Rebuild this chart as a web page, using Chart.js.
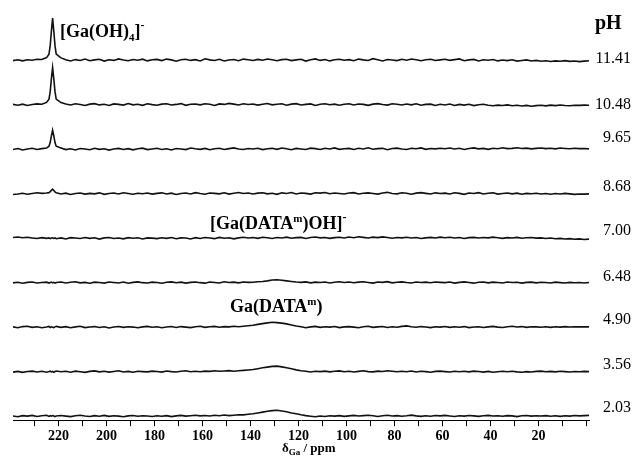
<!DOCTYPE html>
<html>
<head>
<meta charset="utf-8">
<script src="https://cdn.jsdelivr.net/npm/chart.js@4.4.0/dist/chart.umd.min.js"></script>
<style>
  html, body { margin: 0; padding: 0; background: #fff; }
  canvas { display: block; }
</style>
</head>
<body>
<canvas id="nmr" width="636" height="460"></canvas>
<script>
// 71Ga NMR spectra vs pH, stacked

// chemical shift axis (ppm), fine sampling around the Ga(OH)4- line
const ppm = [
  239, 237, 235, 233, 231, 229, 227, 225, 224, 223.5, 223, 222.5, 222, 221.5, 221,
  219, 217, 215, 213, 211, 209, 207, 205, 203, 201, 199, 197, 195, 193, 191, 189, 187, 185, 183, 181,
  179, 177, 175, 173, 171, 169, 167, 165, 163, 161, 159, 157, 155, 153, 151, 149, 147, 145, 143, 141,
  139, 137, 135, 133, 131, 129, 127, 125, 123, 121, 119, 117, 115, 113, 111, 109, 107, 105, 103, 101,
  99, 97, 95, 93, 91, 89, 87, 85, 83, 81, 79, 77, 75, 73, 71, 69, 67, 65, 63, 61,
  59, 57, 55, 53, 51, 49, 47, 45, 43, 41, 39, 37, 35, 33, 31, 29, 27, 25, 23, 21,
  19, 17, 15, 13, 11, 9, 7, 5, 3, 1, -1
];

const xTicks = [0, 10, 20, 30, 40, 50, 60, 70, 80, 90, 100, 110, 120, 130, 140, 150, 160, 170, 180, 190, 200, 210, 220, 230];

const phLabels = ['11.41', '10.48', '9.65', '8.68', '7.00', '6.48', '4.90', '3.56', '2.03'];

// intensities (arbitrary units), one array per pH, same order as ppm
const spec1141 = [
  -0.5, 0.4, -0.8, 0.3, -0.2, 0.9, 0.6, 2.5, 6, 14.5, 29, 42, 29, 14.5, 6,
  2.2, 0.3, -0.9, 0.5, -0.4, 1.1, -0.6, 0.2, 0.8, -1.0, 0.4, -0.3, 1.2, 0.1, -0.7, 0.6, -0.2, 0.9, -0.8, 0.3,
  0.7, -0.5, 1.0, 0.2, -1.1, 0.4, 0.9, -0.3, 0.5, -0.8, 1.3, 0.2, -0.4, 0.8, -0.9, 0.1, 0.6, -0.6, 1.0, 0.3,
  -0.4, 0.7, -0.2, 1.1, 0.3, -0.7, 0.5, 0.9, -0.5, 0.2, 0.8, -1.0, 0.4, 1.2, -0.3, 0.6, -0.8, 0.3, 0.9, -0.2,
  0.5, -0.6, 1.0, 0.2, -0.4, 1.4, 0.3, -0.9, 0.6, 0.1, -0.5, 0.8, -0.2, 1.1, 0.4, -0.7, 0.3, 0.9, -0.4, 0.2,
  0.8, -0.3, 0.5, 1.2, -0.6, 0.2, 0.7, -0.9, 0.4, -0.2, 0.6, -0.8, 0.1, -0.5, 0.3, -1.0, -0.4, 0.2, -0.9, -0.3,
  -1.1, -0.6, -1.4, -0.8, -1.2, -0.5, -1.3, -0.9, -1.5, -1.0, -0.7
];
const spec1048 = [
  0.3, -0.6, 0.5, -0.9, 0.2, 0.7, 0.4, 2.2, 5.5, 13, 26, 37, 26, 13, 5.5,
  2.0, 0.6, -0.4, 0.9, 0.1, -0.8, 0.5, 1.0, -0.3, 0.4, -0.9, 0.7, 0.2, -0.5, 1.1, -0.2, 0.3, -0.7, 0.8, 0.0,
  -0.6, 0.5, 0.9, -0.4, 0.2, 1.0, -0.7, 0.3, 0.6, -0.2, 0.9, 0.4, -0.8, 0.7, 0.2, 1.2, 0.5, -0.3, 0.8, 0.1,
  0.6, -0.5, 0.3, 1.1, -0.2, 0.4, 0.8, -0.6, 0.5, 1.0, -0.4, 0.2, 0.7, -0.8, 0.3, 0.9, -0.1, 0.5, -0.6, 0.4,
  0.9, -0.3, 0.6, 0.2, -0.7, 0.5, 1.0, 0.1, -0.5, 0.8, 0.3, -0.4, 0.6, -0.2, 0.9, -0.6, 0.2, 0.5, -0.9, 0.3,
  -0.4, 0.6, -0.8, 0.2, -0.5, 0.4, -1.0, -0.2, 0.3, -0.7, -1.2, -0.5, -0.9, -0.3, -1.1, -0.6, -1.4, -0.8, -1.6, -1.0,
  -0.7, -1.3, -0.5, -1.0, -0.4, -0.9, -1.2, -0.6, -0.8, -0.5, -0.7
];
const spec965 = [
  -0.4, 0.6, -0.9, 0.2, 0.8, -0.3, 0.5, 1.1, 2.9, 6.6, 13.3, 19, 13.3, 6.6, 2.9,
  1.2, -0.5, 0.3, -0.8, 0.6, 0.1, -0.6, 0.9, -0.2, 0.4, -1.0, 0.2, 0.7, -0.4, 0.5, -0.7, 0.3, 1.0, -0.5, 0.2,
  0.8, -0.3, 0.4, -0.9, 0.6, 0.2, -0.5, 1.1, 0.3, -0.2, 0.7, -0.6, 0.4, 0.9, -0.3, 0.5, 1.2, 0.1, -0.4, 0.6,
  0.2, 0.9, -0.5, 0.4, 0.8, -0.2, 1.1, 0.3, -0.6, 0.7, 0.2, -0.4, 1.0, 0.5, -0.3, 0.8, 0.1, 1.2, -0.2, 0.4,
  0.7, -0.4, 0.9, 0.2, 1.3, -0.1, 0.5, 0.8, -0.6, 0.6, 1.0, 0.2, -0.3, 0.9, 0.4, 1.2, -0.2, 0.6, 0.3, 0.9,
  0.4, 1.1, 0.2, 0.8, -0.3, 0.6, 1.2, 0.3, 0.7, -0.2, 0.9, 0.4, 1.3, 0.5, 0.8, 1.4, 0.6, 1.0, 0.3, 0.8,
  1.2, 0.5, 0.9, 0.3, 1.1, 0.7, 0.4, 0.9, 0.5, 0.7, 0.3
];
const spec868 = [
  -0.8, -0.3, 0.4, -0.6, 0.2, 0.9, 0.3, 0.6, 1.0, 2.0, 3.3, 4.5, 3.2, 1.8, 0.8,
  -0.4, 0.5, -0.9, 0.2, 0.7, -0.5, 0.3, -0.2, 0.8, -0.7, 0.1, 0.6, -0.4, 0.9, 0.2, -0.6, 0.4, -0.1, 0.7, -0.5,
  0.3, 0.8, -0.3, 0.5, -0.8, 0.2, 0.6, -0.4, 1.0, 0.1, -0.6, 0.7, 0.3, -0.2, 0.9, -0.5, 0.4, 1.1, 0.2, 0.6,
  -0.3, 0.5, 0.9, -0.2, 0.4, -0.7, 0.8, 0.2, 1.1, -0.4, 0.6, 0.3, -0.5, 0.9, 0.5, 1.2, -0.1, 0.7, 0.2, -0.4,
  0.6, 1.0, -0.3, 0.4, 0.8, 0.1, -0.5, 0.7, 1.3, 0.2, -0.2, 0.9, 0.4, -0.6, 0.5, 1.0, 0.3, -0.3, 0.8, 0.2,
  0.5, -0.4, 0.9, 0.3, -0.7, 0.6, 0.1, 1.0, -0.3, 0.4, 0.8, -0.5, 0.2, 0.7, -0.2, 0.5, -0.6, 0.3, -0.1, 0.4,
  -0.3, 0.2, -0.6, 0.1, -0.4, 0.3, -0.2, -0.7, -0.3, -0.5, -0.2
];
const spec700 = [
  0.6, 1.2, 0.4, 0.9, 0.2, -0.4, 0.5, -0.2, 0.3, -0.5, 0.1, 0.4, -0.3, 0.2, -0.6,
  0.3, -0.8, 0.5, 0.1, -0.4, 0.7, -0.2, 0.4, -0.9, 0.3, 0.6, -0.3, 0.2, -0.7, 0.5, -0.1, 0.4, -0.8, 0.3, 0.0,
  -0.5, 0.4, -0.2, 0.7, -0.6, 0.3, 0.1, -0.8, 0.5, -0.3, 0.6, 0.2, -0.5, 0.8, -0.1, 0.4, -0.7, 0.3, 0.9, 0.2,
  0.6, -0.2, 0.9, 0.4, -0.4, 0.7, 0.2, 1.0, -0.1, 0.5, 0.8, -0.3, 0.6, 1.2, 0.3, 0.7, -0.2, 0.5, 0.9, 0.1,
  1.1, 0.4, 1.4, 0.8, 0.2, 1.0, 0.5, 1.3, 0.6, -0.1, 0.7, 0.3, 0.9, 0.2, 0.6, -0.4, 0.3, 0.8, 0.1, 1.0,
  0.4, 0.9, 0.2, 0.6, -0.3, 0.5, 0.8, 0.1, 0.7, 0.3, 1.0, 0.4, -0.2, 0.5, 0.2, 0.8, -0.1, 0.4, 0.6, 0.0,
  0.3, -0.4, 0.2, -0.6, -0.2, -0.8, -0.5, -1.1, -0.7, -1.3, -1.0
];
const spec648 = [
  -0.2, 0.4, -0.6, 0.3, 0.7, -0.3, 0.2, 0.5, -0.4, 0.1, 0.6, -0.2, 0.3, -0.5, 0.2,
  0.6, -0.3, 0.4, 0.9, -0.2, 0.3, -0.6, 0.5, 0.1, -0.4, 0.7, 0.2, -0.3, 0.6, -0.5, 0.3, 0.8, 0.0, -0.4, 0.5,
  0.2, -0.6, 0.4, 0.8, -0.1, 0.5, -0.4, 0.3, 0.7, 0.0, -0.5, 0.6, 0.2, -0.3, 0.9, 0.1, 0.5, -0.2, 0.7, 0.3,
  0.4, 0.9, 1.2, 1.8, 2.6, 2.9, 2.4, 1.8, 1.2, 0.6, 0.3, 0.8, -0.2, 0.5, 0.1, 0.7, -0.3, 0.4, 0.9, 0.2,
  0.6, -0.1, 0.5, 0.9, 0.2, -0.4, 0.6, 0.3, 1.0, -0.2, 0.4, 0.8, 0.1, -0.3, 0.7, 0.2, 0.5, -0.1, 0.6, 0.3,
  0.0, 0.6, -0.4, 0.3, 0.8, 0.1, -0.5, 0.4, 0.7, -0.2, 0.5, 0.2, -0.3, 0.6, 0.1, 0.4, -0.4, 0.3, 0.5, -0.2,
  0.4, 0.1, -0.3, 0.5, 0.0, -0.4, 0.3, -0.1, 0.2, -0.3, 0.1
];
const spec490 = [
  0.3, -0.5, 0.6, 1.0, -0.2, 0.4, -0.6, 0.2, 0.7, -0.3, 0.4, 0.0, -0.5, 0.3, 0.8,
  -0.2, 0.5, -0.6, 0.3, 0.9, -0.4, 0.2, 0.6, -0.3, 0.4, -0.8, 0.2, 0.7, -0.2, 0.5, 0.1, -0.6, 0.3, 0.8, -0.1,
  0.4, -0.5, 0.2, 0.7, -0.3, 0.6, 0.1, -0.4, 0.5, 0.9, -0.2, 0.4, 0.8, 0.0, 0.6, 0.3, 1.0, 0.5, 0.9, 1.4,
  2.0, 2.8, 3.6, 4.3, 5.0, 4.6, 4.1, 3.3, 2.2, 1.2, 0.4, -0.5, 0.3, 0.8, -0.2, 0.5, 0.1, 0.7, -0.4, 0.3,
  0.6, 0.1, -0.5, 0.4, 0.9, -0.2, 0.3, 0.7, -0.3, 0.5, 0.0, 0.8, 1.3, 0.4, -0.1, 0.6, 0.2, -0.4, 0.5, 0.1,
  0.7, -0.2, 0.4, 0.0, 0.6, -0.4, 0.2, 0.5, -0.3, 0.3, 0.8, 0.1, -0.3, 0.5, 1.0, 0.2, 0.6, -0.2, 0.4, 0.3,
  0.0, 0.5, -0.2, 0.4, 0.1, 0.6, 0.2, 0.4, 0.3, 0.5, 0.3
];
const spec356 = [
  -0.4, 0.3, -0.7, 0.2, 0.6, -0.3, 0.4, -0.5, 0.1, 0.5, -0.2, 0.3, -0.6, 0.2, 0.7,
  -0.1, 0.4, -0.5, 0.6, 0.0, -0.7, 0.3, 0.8, -0.2, 0.4, -0.4, 0.2, 0.9, -0.3, 0.3, -0.6, 0.5, 0.1, -0.2, 0.6,
  0.2, -0.4, 0.7, 0.1, -0.3, 0.5, 0.9, -0.1, 0.4, 0.0, 0.6, 0.3, 1.0, 0.4, 0.7, 1.1, 0.5, 0.9, 1.3, 1.7,
  2.2, 3.0, 3.9, 4.6, 5.3, 5.6, 4.8, 3.9, 2.9, 1.8, 1.0, 0.4, -0.3, 0.5, 0.1, 0.6, -0.2, 0.4, 0.8, 0.0,
  0.5, -0.3, 0.3, 0.9, 0.1, -0.2, 0.6, 0.2, 1.0, 0.4, -0.1, 0.5, 0.0, 0.7, -0.3, 0.4, 0.1, -0.5, 0.3, 0.6,
  0.1, -0.3, 0.5, 0.0, 0.4, -0.2, 0.6, 0.2, -0.4, 0.3, -0.6, -0.1, 0.4, 0.0, 0.5, -0.2, -0.5, 0.1, -0.3, 0.3,
  0.6, 0.0, 0.3, -0.2, 0.4, 0.1, -0.3, 0.2, 0.0, 0.3, 0.1
];
const spec203 = [
  0.2, -0.5, 0.6, 0.1, 0.8, -0.3, 0.4, 0.9, -0.2, 0.5, 0.0, 0.6, 0.2, -0.4, 0.3,
  0.7, 0.1, -0.4, 0.5, 0.9, 0.2, -0.3, 0.6, 0.0, 0.8, -0.2, 0.4, 0.1, -0.5, 0.3, 0.7, -0.1, 0.5, 0.2, -0.3,
  0.4, 0.0, 0.6, -0.4, 0.3, 0.8, 0.1, 0.5, 1.0, 0.3, 0.7, 0.2, 0.9, 0.5, 1.2, 0.6, 1.0, 1.5, 1.3, 1.9,
  2.4, 3.2, 4.1, 5.0, 5.6, 6.0, 5.3, 4.4, 3.3, 2.4, 1.4, 0.6, 0.0, -0.5, 0.2, -0.3, 0.4, 0.1, 0.6, -0.2,
  0.3, 0.8, 0.2, 0.6, 1.0, 0.4, -0.3, 0.5, 0.9, 0.2, 0.6, -0.1, 0.4, 1.1, 0.3, -0.2, 0.5, 0.0, 0.7, 0.3,
  0.8, 0.2, -0.3, 0.5, 0.1, 0.7, 0.3, -0.2, 0.4, 0.8, 0.2, 0.5, -0.1, 0.6, 0.3, -0.4, 0.4, 0.7, 0.1, 0.5,
  0.2, 0.6, 0.0, 0.4, -0.2, 0.5, 0.1, 0.7, 0.3, 0.6, 0.8
];

const spectra = [spec1141, spec1048, spec965, spec868, spec700, spec648, spec490, spec356, spec203];

// stacking layout
const STACK_BASE = 4;
const STACK_GAP = 44.6;
const labelDy = [-1, 0, -11, -7, -7, -6, -7, -7, -8];
const FONT = '"Liberation Serif", "Times New Roman", serif';

function stackOffset(i) {
  return STACK_BASE + (spectra.length - 1 - i) * STACK_GAP;
}

const datasets = spectra.map((s, i) => ({
  label: 'pH ' + phLabels[i],
  data: ppm.map((x, k) => ({ x: x, y: s[k] + stackOffset(i) })),
  borderColor: '#111',
  borderWidth: 1.6,
  pointRadius: 0,
  tension: 0,
  fill: false
}));

function drawRich(ctx, x, y, parts) {
  let cx = x;
  parts.forEach(p => {
    ctx.font = 'bold ' + p.size + 'px ' + FONT;
    ctx.fillText(p.t, cx, y + (p.dy || 0));
    cx += ctx.measureText(p.t).width;
  });
}

const textPlugin = {
  id: 'spectraText',
  afterDraw(chart) {
    const ctx = chart.ctx;
    const ys = chart.scales.y;
    ctx.save();
    ctx.fillStyle = '#000';

    // pH column
    ctx.textAlign = 'left';
    ctx.textBaseline = 'alphabetic';
    ctx.font = 'bold 20px ' + FONT;
    ctx.fillText('pH', 595, 29);

    ctx.textAlign = 'right';
    ctx.textBaseline = 'middle';
    ctx.font = '16px ' + FONT;
    phLabels.forEach((lab, i) => {
      ctx.fillText(lab, 631, ys.getPixelForValue(stackOffset(i)) + labelDy[i]);
    });

    // species labels
    ctx.textAlign = 'left';
    ctx.textBaseline = 'alphabetic';
    drawRich(ctx, 60, 37, [
      { t: '[Ga(OH)', size: 18 }, { t: '4', size: 11, dy: 4 }, { t: ']', size: 18 }, { t: '-', size: 12, dy: -8 }
    ]);
    drawRich(ctx, 210, 229, [
      { t: '[Ga(DATA', size: 18 }, { t: 'm', size: 11, dy: -7 }, { t: ')OH]', size: 18 }, { t: '-', size: 12, dy: -8 }
    ]);
    drawRich(ctx, 230, 312, [
      { t: 'Ga(DATA', size: 18 }, { t: 'm', size: 11, dy: -7 }, { t: ')', size: 18 }
    ]);

    // axis title
    drawRich(ctx, 282, 452, [
      { t: 'δ', size: 13 }, { t: 'Ga', size: 9, dy: 3 }, { t: ' / ppm', size: 13 }
    ]);
    ctx.restore();
  }
};

new Chart(document.getElementById('nmr'), {
  type: 'line',
  data: { datasets },
  options: {
    responsive: false,
    animation: false,
    devicePixelRatio: 1,
    layout: { padding: { left: 13, right: 47, top: 10, bottom: 13 } },
    scales: {
      x: {
        type: 'linear',
        reverse: true,
        min: -1,
        max: 239,
        afterBuildTicks: axis => { axis.ticks = xTicks.map(v => ({ value: v })); },
        ticks: {
          autoSkip: false,
          maxRotation: 0,
          padding: 2,
          color: '#000',
          font: { family: FONT, size: 14, weight: 'bold' },
          callback: v => (v > 0 && v % 20 === 0 ? String(v) : '')
        },
        grid: { drawOnChartArea: false, drawTicks: true, tickLength: 6, color: '#000' },
        border: { display: true, color: '#000', width: 1 }
      },
      y: { display: false, min: 0, max: 411 }
    },
    plugins: { legend: { display: false }, tooltip: { enabled: false } }
  },
  plugins: [textPlugin]
});
</script>
</body>
</html>
